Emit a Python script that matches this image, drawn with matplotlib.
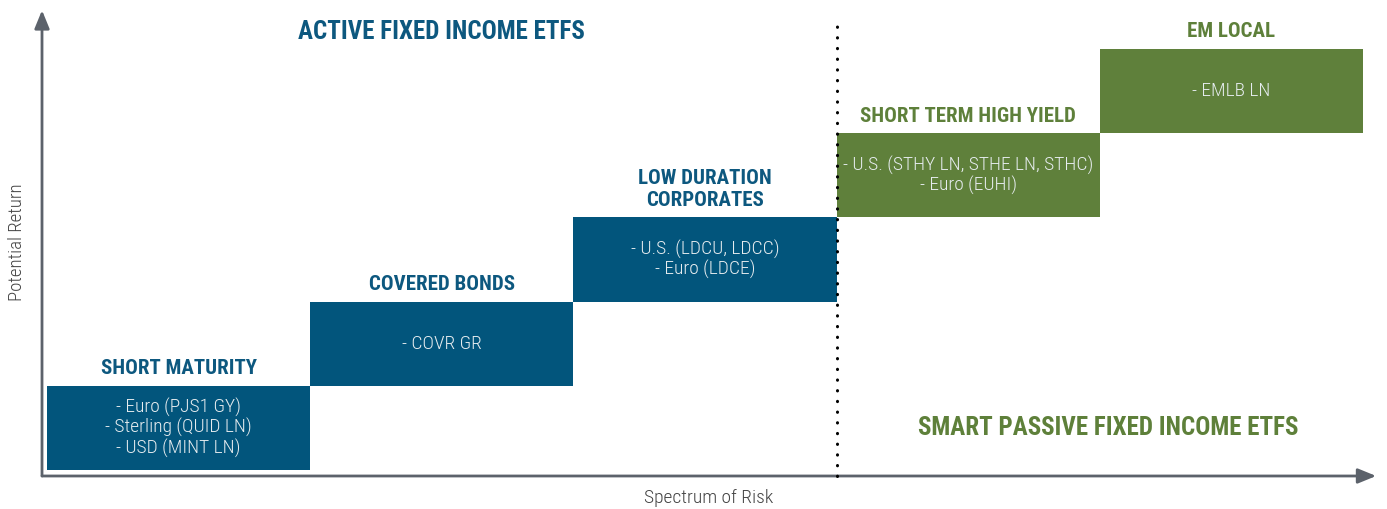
import matplotlib
matplotlib.use('Agg')
import matplotlib.pyplot as plt
from matplotlib import font_manager
from matplotlib.patches import Rectangle

# pick a narrow font if there is one
names = set(f.name for f in font_manager.fontManager.ttflist)
FontName = 'Roboto'
for cand in ['Roboto Condensed', 'Liberation Sans Narrow', 'Roboto']:
    if cand in names:
        FontName = cand
        break
plt.rcParams['font.family'] = [FontName, 'DejaVu Sans']

# data: risk step (x) and return step (y) of each fund group
BoxTitle = ['SHORT MATURITY', 'COVERED BONDS', 'LOW DURATION\nCORPORATES',
            'SHORT TERM HIGH YIELD', 'EM LOCAL']
BoxBody = ['- Euro (PJS1 GY)\n- Sterling (QUID LN)\n- USD (MINT LN)',
           '- COVR GR',
           '- U.S. (LDCU, LDCC)\n- Euro (LDCE)',
           '- U.S. (STHY LN, STHE LN, STHC)\n- Euro (EUHI)',
           '- EMLB LN']
RiskStep = [0, 1, 2, 3, 4]
ReturnStep = [0, 1, 2, 3, 4]
BoxGroup = ['active', 'active', 'active', 'passive', 'passive']
GroupSplit = 3

FillColor = {'active': '#02557c', 'passive': '#5f803b'}
TextColor = {'active': '#0d587f', 'passive': '#5e803a'}
AxisColor = '#5c626b'

fig = plt.figure(figsize=(13.87, 5.09), dpi=100)
ax = fig.add_axes([0, 0, 1, 1])
ax.set_xlim(-0.1786, 5.0912)
ax.set_ylim(-0.463, 5.582)
ax.axis('off')

for i in range(len(BoxTitle)):
    x0 = RiskStep[i]
    y0 = ReturnStep[i]
    g = BoxGroup[i]
    ax.add_patch(Rectangle((x0, y0), 1, 1, facecolor=FillColor[g], edgecolor='none', zorder=2))
    ax.text(x0 + 0.5, y0 + 0.5, BoxBody[i], ha='center', va='center', color='#e6ecef',
            fontsize=14, fontweight='light', linespacing=1.09, zorder=3)
    ax.text(x0 + 0.5, y0 + 1.09, BoxTitle[i], ha='center', va='bottom', color=TextColor[g],
            fontsize=15, fontweight='bold', linespacing=1.2, zorder=3)

# group headers
ax.text(1.5, 5.2, 'ACTIVE FIXED INCOME ETFS', ha='center', va='center',
        color=TextColor['active'], fontsize=18, fontweight='bold')
ax.text(4.03, 0.5, 'SMART PASSIVE FIXED INCOME ETFS', ha='center', va='center',
        color=TextColor['passive'], fontsize=18, fontweight='bold')

# divider
ax.plot([GroupSplit, GroupSplit], [-0.07, 5.33], color='black', linestyle=(0, (0.1, 3.4)),
        linewidth=2.2, dash_capstyle='round', zorder=4)

# axes arrows
ax.annotate('', xy=(5.05, -0.071), xytext=(-0.019, -0.071),
            arrowprops=dict(arrowstyle='-|>,head_length=1.1,head_width=0.45', color=AxisColor,
                            lw=2, shrinkA=0, shrinkB=0))
ax.annotate('', xy=(-0.019, 5.46), xytext=(-0.019, -0.071),
            arrowprops=dict(arrowstyle='-|>,head_length=1.1,head_width=0.45', color=AxisColor,
                            lw=2, shrinkA=0, shrinkB=0))

ax.text(2.515, -0.33, 'Spectrum of Risk', ha='center', va='center', color='#444444',
        fontsize=14, fontweight='light')
ax.text(-0.114, 2.7, 'Potential Return', ha='center', va='center', rotation=90,
        color='#444444', fontsize=13.5, fontweight='light')

fig.savefig('out.png', dpi=100)
